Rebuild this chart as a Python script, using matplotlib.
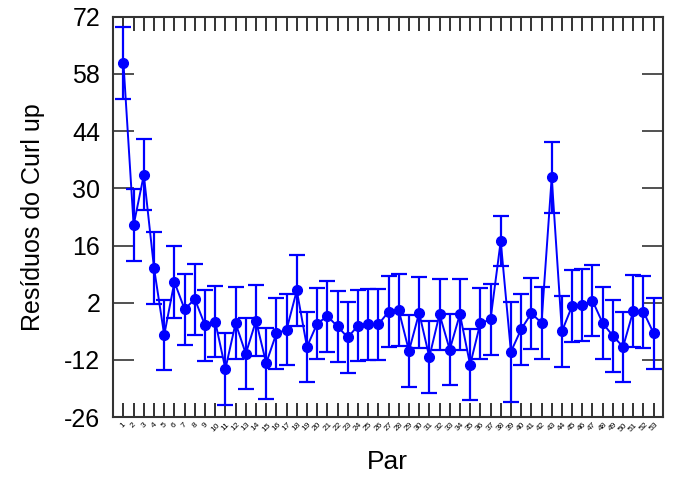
import matplotlib.pyplot as plt

plt.rcParams['font.family'] = ['Liberation Sans', 'DejaVu Sans']
plt.rcParams['axes.unicode_minus'] = False

par = list(range(1, 54))
residuos = [60.7, 21.0, 33.3, 10.5, -5.9, 7.1, 0.4, 2.9, -3.5, -2.6,
            -14.2, -3.0, -10.5, -2.4, -12.8, -5.5, -4.6, 5.0, -8.8, -3.1,
            -1.3, -3.8, -6.5, -3.6, -3.3, -3.3, -0.2, 0.2, -9.8, -0.5,
            -11.3, -0.8, -9.5, -0.8, -13.2, -3.0, -2.1, 17.1, -10.0, -4.5,
            -0.6, -2.9, 32.7, -5.0, 1.2, 1.4, 2.5, -3.0, -6.1, -8.8,
            0.0, -0.2, -5.5]
erro = [8.75, 8.75, 8.7, 8.7, 8.65, 8.75, 8.7, 8.7, 8.7, 8.75,
        8.75, 8.75, 8.65, 8.7, 8.7, 8.7, 8.75, 8.7, 8.65, 8.7,
        8.7, 8.7, 8.7, 8.7, 8.75, 8.75, 8.75, 8.75, 8.75, 8.7,
        8.75, 8.7, 8.75, 8.7, 8.7, 8.7, 8.75, 6.2, 12.3, 8.75,
        8.75, 8.8, 8.75, 8.75, 8.7, 8.75, 8.75, 8.75, 8.75, 8.65,
        8.75, 8.8, 8.75]
yticks = [-26, -12, 2, 16, 30, 44, 58, 72]

fig = plt.figure(figsize=(6.75, 4.8), dpi=100)
ax = fig.add_axes([0.167, 0.131, 0.815, 0.834])

ax.errorbar(par, residuos, yerr=erro, color='#0000ff', marker='o',
            markersize=7, linewidth=1.4, elinewidth=1.6, capsize=6,
            capthick=1.6)

ax.set_xlim(-0.05, 53.9)
ax.set_ylim(-26, 72)
ax.set_yticks(yticks)
ax.set_xticks(par)
ax.set_xticklabels([str(p) for p in par], fontsize=6, rotation=45,
                   ha='center')
ax.tick_params(axis='y', direction='in', length=15, width=1.2,
               labelsize=18, pad=9, right=True, color='#333333')
ax.tick_params(axis='x', direction='in', length=10, width=1.2,
               top=True, pad=3, color='#111111')
for s in ax.spines.values():
    s.set_linewidth(1.5)
    s.set_color('#333333')

ax.set_xlabel('Par', fontsize=19, labelpad=12)
ax.set_ylabel('Resíduos do Curl up', fontsize=18, labelpad=14)

plt.savefig('out.png', dpi=100)
